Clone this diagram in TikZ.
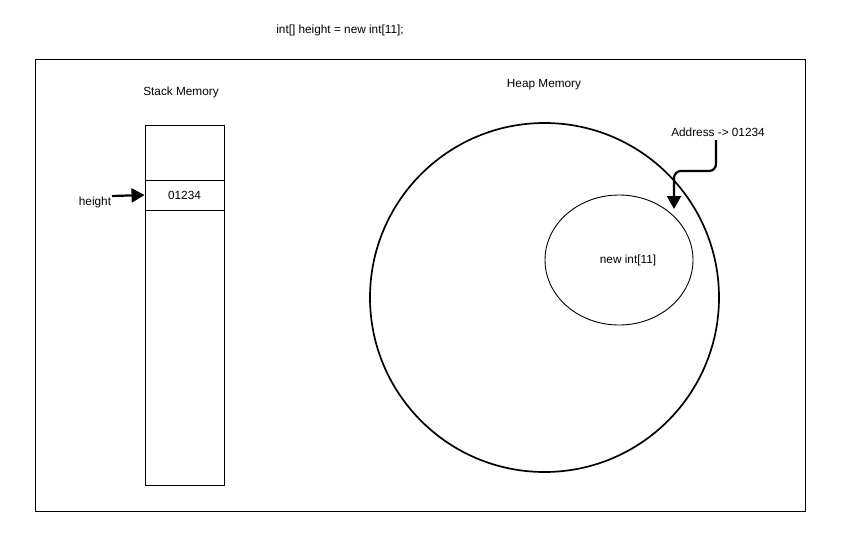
\documentclass[tikz,border=0pt]{standalone}
\usepackage{fontspec}
\setmainfont{Liberation Sans}
\usetikzlibrary{arrows.meta,shapes.geometric}
\begin{document}
\begin{tikzpicture}[x=1pt,y=-1pt,
  lbl/.style={inner sep=0pt,font=\fontsize{11.8}{13}\selectfont},
  thinline/.style={draw=black,line width=0.9pt},
  thickline/.style={draw=black,line width=1.7pt},
  ptr/.style={draw=black,line width=2.2pt,-{Triangle[length=13pt,width=14pt]}}]
\useasboundingbox (0,0) rectangle (845,536);
\fill[white] (0,0) rectangle (845,536);
\node[lbl] (title) at (340,30) {int[] height = new int[11];};
\draw[thinline] (35,59) rectangle (805,511);
% stack
\node[lbl] (stacklbl) at (181,92) {Stack Memory};
\node[thinline,minimum width=79pt,minimum height=360pt,inner sep=0pt] (stack) at (184.5,305) {};
\node[thinline,minimum width=79pt,minimum height=30pt,inner sep=0pt,lbl] (cell) at (184.5,195) {01234};
\node[lbl] (hlbl) at (95,202) {height};
\coordinate (hstart) at (112,196);
\draw[ptr] (hstart) -- (cell.west);
% heap
\node[lbl] (heaplbl) at (544,85) {Heap Memory};
\node[thickline,circle,minimum size=349pt,inner sep=0pt] (heap) at (544.5,297.5) {};
\node[thinline,ellipse,minimum width=148pt,minimum height=130pt,inner sep=0pt] (obj) at (619,260) {};
\node[lbl] (objlbl) at (628,260) {new int[11]};
\node[lbl] (addr) at (718,132) {Address -> 01234};
\coordinate (tip) at (674,209);
\draw[ptr,rounded corners=7pt] (716,140) -- (716,171) -- (674,171) -- (tip);
\end{tikzpicture}
\end{document}
